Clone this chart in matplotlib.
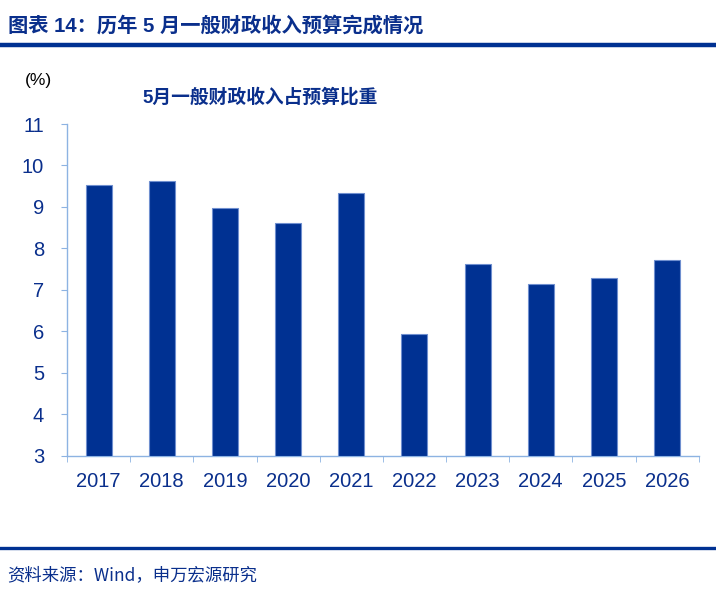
import numpy as np
import matplotlib
matplotlib.use("Agg")
import matplotlib.pyplot as plt
from matplotlib.lines import Line2D

# Data
years = ["2017", "2018", "2019", "2020", "2021", "2022", "2023", "2024", "2025", "2026"]
ratio = [9.53, 9.63, 8.97, 8.61, 9.34, 5.93, 7.62, 7.14, 7.29, 7.73]

dark_blue = "#003192"
text_blue = "#0A2F8C"
axis_blue = "#8DB3E2"

plt.rcParams["font.family"] = ["Liberation Sans", "Noto Sans CJK SC", "DejaVu Sans"]

fig = plt.figure(figsize=(7.16, 6.03), dpi=100)

# header / footer
fig.text(0.011, 0.958, "图表 14：历年 5 月一般财政收入预算完成情况", fontsize=14.6, fontweight="bold",
         color=text_blue, ha="left", va="center", family=["Liberation Sans", "Noto Sans CJK SC"])
fig.add_artist(Line2D([0, 1], [1 - 45 / 603, 1 - 45 / 603], color=dark_blue, lw=3.2))
fig.add_artist(Line2D([0, 1], [1 - 547.5 / 603, 1 - 547.5 / 603], color=dark_blue, lw=2.4))
fig.text(0.010, 1 - 575 / 603, "资料来源：Wind，申万宏源研究", fontsize=12.5,
         color=text_blue, ha="left", va="center", family=["Noto Sans CJK SC", "Liberation Sans"])

# chart title and unit
fig.text(260 / 716, 1 - 97 / 603, "5月一般财政收入占预算比重", fontsize=13.5, fontweight="bold",
         color=text_blue, ha="center", va="center", family=["Liberation Sans", "Noto Sans CJK SC"])
fig.text(38 / 716, 1 - 80 / 603, "(%)", fontsize=12.5, color="black", ha="center", va="center")

ax = fig.add_axes([67 / 716, 1 - 455.7 / 603, (698.7 - 67) / 716, (455.7 - 124) / 603])
x = np.arange(len(years))
ax.bar(x, [v - 3 for v in ratio], bottom=3, width=0.41, color=dark_blue,
       edgecolor="#6F8FCF", linewidth=0.8, zorder=3)

ax.set_xlim(-0.5, len(years) - 0.5)
ax.set_ylim(3, 11)
ax.set_yticks(range(3, 12))
ax.set_xticks(x)
ax.set_xticklabels(years)
ax.set_xticks(np.arange(-0.5, len(years)), minor=True)

for s in ["top", "right"]:
    ax.spines[s].set_visible(False)
for s in ["left", "bottom"]:
    ax.spines[s].set_color(axis_blue)
    ax.spines[s].set_linewidth(1.0)

ax.tick_params(axis="y", direction="out", length=4.5, color=axis_blue, labelsize=14.5,
               labelcolor=text_blue, pad=12)
ax.tick_params(axis="x", which="major", length=0, labelsize=14.5, labelcolor=text_blue, pad=12)
ax.tick_params(axis="x", which="minor", direction="out", length=4.5, color=axis_blue)

fig.savefig("out.png", dpi=100)
